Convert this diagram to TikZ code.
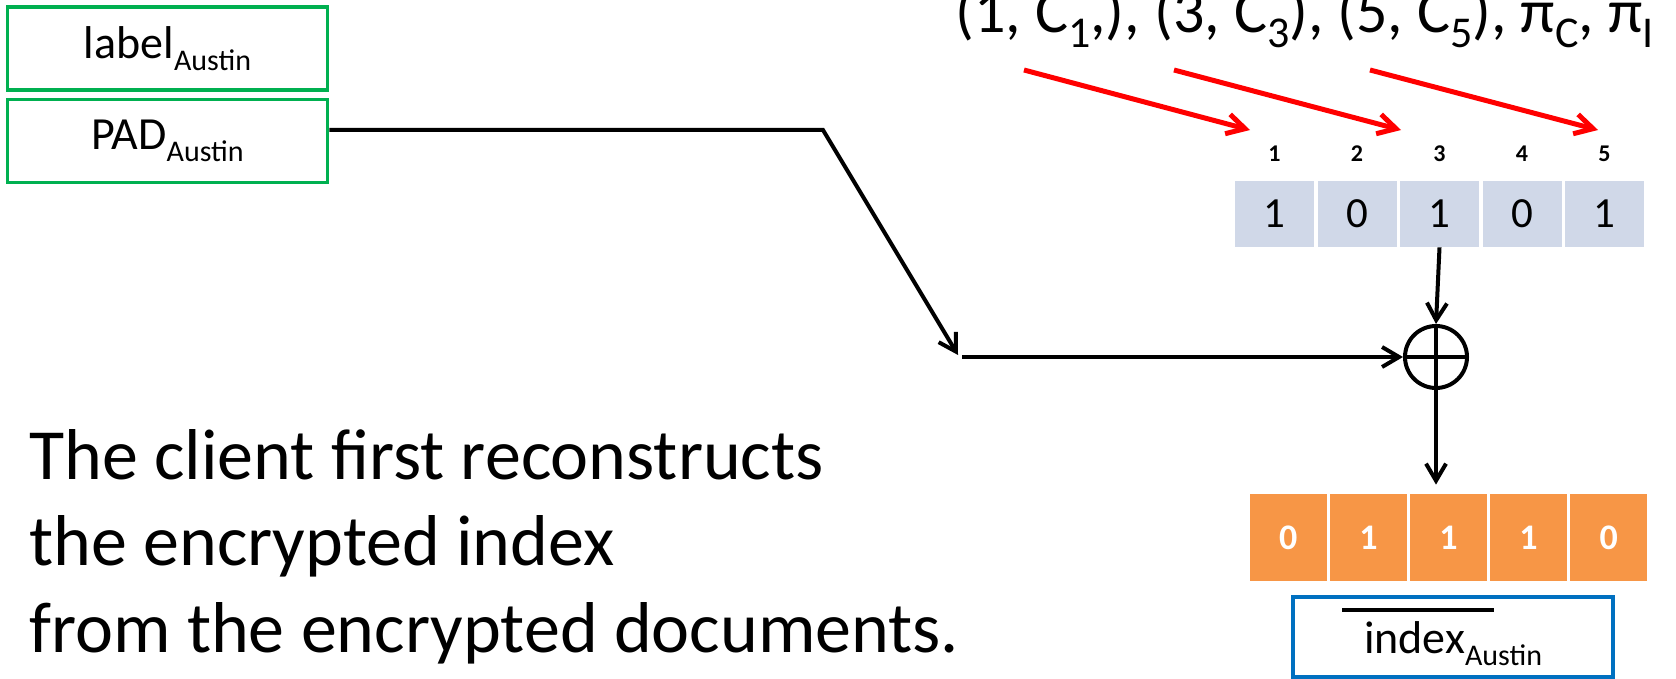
\documentclass[tikz,border=0pt]{standalone}
\usepackage{fontspec}
\setmainfont{Carlito}
\usetikzlibrary{arrows.meta,positioning}
\definecolor{keygreen}{HTML}{00B050}
\definecolor{indexblue}{HTML}{0070C0}
\definecolor{plainbit}{HTML}{D0D8E8}
\definecolor{cipherbit}{HTML}{F79646}
% lowered small text (size, drop, text)
\newcommand{\lowtext}[3]{\raisebox{-#2}{\fontsize{#1}{#1}\selectfont #3}}

\begin{document}
\begin{tikzpicture}[x=0.5pt, y=-0.5pt,
  keybox/.style={draw=keygreen, line width=1.75pt, minimum width=160pt, minimum height=41.5pt,
                 font=\fontsize{23}{23}\selectfont},
  bit/.style={fill=plainbit, minimum width=39.5pt, minimum height=33pt, inner sep=0pt,
              font=\fontsize{21.5}{21.5}\selectfont},
  encbit/.style={fill=cipherbit, text=white, minimum width=38.3pt, minimum height=43.5pt,
                 inner sep=0pt, font=\bfseries\fontsize{18}{18}\selectfont},
  slotnum/.style={inner sep=0pt, font=\bfseries\fontsize{12}{12}\selectfont},
  arr/.style={-{Straight Barb[length=8.5pt,width=10pt]}, line width=2pt},
  redarr/.style={-{Straight Barb[length=9pt,width=10pt]}, line width=2.5pt, red},
  node distance=1.35pt
]
  \useasboundingbox (0,0) rectangle (1676,679);

  \node[keybox] (label) at (167.5,48.5) {label\lowtext{15pt}{6pt}{Austin}};
  \node[keybox, below=3pt of label] (pad) {PAD\lowtext{15pt}{6pt}{Austin}};

  \node[anchor=base west, inner sep=0pt, font=\fontsize{31}{31}\selectfont] (tuples) at (955,33)
    {(1, C\lowtext{22pt}{7.5pt}{1},), (3, C\lowtext{22pt}{7.5pt}{3}), (5, C\lowtext{22pt}{7.5pt}{5}), π\lowtext{22pt}{7.5pt}{C}, π\lowtext{22pt}{7.5pt}{I}};

  \node[bit] (b1) at (1274.5,214) {1};
  \node[bit, right=of b1] (b2) {0};
  \node[bit, right=of b2] (b3) {1};
  \node[bit, right=of b3] (b4) {0};
  \node[bit, right=of b4] (b5) {1};
  \node[slotnum, above=9.5pt of b1] (p1) {1};
  \node[slotnum, above=9.5pt of b2] (p2) {2};
  \node[slotnum, above=9.5pt of b3] (p3) {3};
  \node[slotnum, above=9.5pt of b4] (p4) {4};
  \node[slotnum, above=9.5pt of b5] (p5) {5};

  \node[circle, draw, line width=2pt, minimum size=31pt, inner sep=0pt] (xor) at (1436,357) {};
  \draw[line width=2pt] (xor.north) -- (xor.south) (xor.west) -- (xor.east);

  \node[encbit] (e1) at (1288.3,537.5) {0};
  \node[encbit, right=of e1] (e2) {1};
  \node[encbit, right=of e2] (e3) {1};
  \node[encbit, right=of e3] (e4) {1};
  \node[encbit, right=of e4] (e5) {0};

  \node[draw=indexblue, line width=1.75pt, minimum width=160pt, minimum height=40pt,
        font=\fontsize{23}{23}\selectfont] (index) at (1453,637)
    {\makebox[0pt][l]{\hspace{-11pt}\rule[20.5pt]{76pt}{2pt}}index\lowtext{15pt}{6pt}{Austin}};

  \node[anchor=base west, align=left, inner sep=0pt, font=\fontsize{36}{43.25}\selectfont] (caption)
    at (29,652) {The client first reconstructs\\the encrypted index\\from the encrypted documents.};

  \coordinate (bend) at (823,130);
  \coordinate (drop) at (958,355);
  \coordinate (join) at (962,357);
  \coordinate (r1) at (1024,70);
  \coordinate (r1tip) at (1250,130);
  \coordinate (r3) at (1174,70);
  \coordinate (r3tip) at (1401,130);
  \coordinate (r5) at (1370,70);
  \coordinate (r5tip) at (1598,130);

  \draw[arr] (pad.east |- bend) -- (bend) -- (drop);
  \draw[arr] (join) -- (xor.west);
  \draw[arr] (b3.south) -- (xor.north);
  \draw[arr, shorten >=4.5pt] (xor.south) -- (xor.south |- e3.north);

  \draw[redarr] (r1) -- (r1tip);
  \draw[redarr] (r3) -- (r3tip);
  \draw[redarr] (r5) -- (r5tip);
\end{tikzpicture}
\end{document}
